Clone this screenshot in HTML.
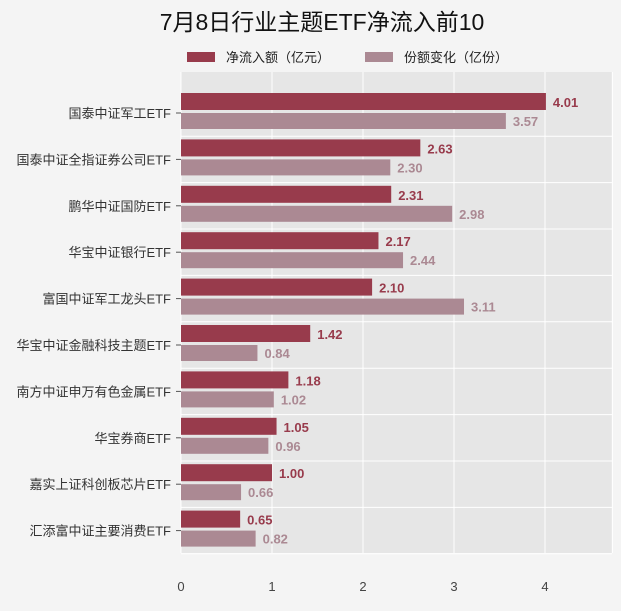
<!DOCTYPE html>
<html><head><meta charset="utf-8"><style>
body{margin:0;background:#f4f4f4;}
svg text{font-family:"Liberation Sans","Noto Sans CJK SC",sans-serif;}
</style></head><body>
<svg width="621" height="606">
<rect width="621" height="606" fill="#f4f4f4"/>
<text x="322" y="30" font-size="23" text-anchor="middle" fill="#111">7月8日行业主题ETF净流入前10</text>
<g>
<rect x="187" y="52" width="28" height="10" fill="#983b4c"/>
<text x="226" y="62" font-size="13" fill="#222">净流入额（亿元）</text>
<rect x="365" y="52" width="28" height="10" fill="#ab8993"/>
<text x="404" y="62" font-size="13" fill="#222">份额变化（亿份）</text>
</g>
<rect x="181" y="72" width="431" height="481" fill="#e6e6e6"/>
<g id="grid"></g><g id="bars"></g><g id="labels"></g><g id="axis"></g>
</svg>
<script>
const categories=["国泰中证军工ETF","国泰中证全指证券公司ETF","鹏华中证国防ETF","华宝中证银行ETF","富国中证军工龙头ETF","华宝中证金融科技主题ETF","南方中证申万有色金属ETF","华宝券商ETF","嘉实上证科创板芯片ETF","汇添富中证主要消费ETF"];
const inflow=[4.01,2.63,2.31,2.17,2.10,1.42,1.18,1.05,1.00,0.65];
const shares=[3.57,2.30,2.98,2.44,3.11,0.84,1.02,0.96,0.66,0.82];
const ticks=[0,1,2,3,4];
const NS="http://www.w3.org/2000/svg";
const x=v=>181+v*91;
const yc=i=>113+i*46.4;
function mk(t,a,p){const e=document.createElementNS(NS,t);for(const k in a)e.setAttribute(k,a[k]);document.getElementById(p).appendChild(e);return e;}
ticks.forEach(t=>{
 const l=mk('line',{x1:x(t),x2:x(t),y1:72,y2:553,stroke:'#fff','stroke-width':1},'grid');
 
 
 const tx=mk('text',{x:x(t),y:591,'font-size':13,'text-anchor':'middle',fill:'#444'},'axis');
 tx.textContent=t;
 
 
});
const g2=mk('line',{x1:x(4.74),x2:x(4.74),y1:72,y2:553,stroke:'#fff'},'grid');


categories.forEach((c,i)=>{
 const y=yc(i);
 const hl=mk('line',{x1:181,x2:612,y1:y+23.2,y2:y+23.2,stroke:'#fff'},'grid');
 
 
 const b1=mk('rect',{x:181,y:y-20,width:x(inflow[i])-181,height:17,fill:'#983b4c'},'bars');
 
 
 const b2=mk('rect',{x:181,y:y,width:x(shares[i])-181,height:16,fill:'#ab8993'},'bars');
 
 
 const t1=mk('text',{x:x(inflow[i])+7,y:y-6,'font-size':13,'font-weight':'bold',fill:'#983b4c'},'labels');
 t1.textContent=inflow[i].toFixed(2);
 
 
 const t2=mk('text',{x:x(shares[i])+7,y:y+13,'font-size':13,'font-weight':'bold',fill:'#ab8993'},'labels');
 t2.textContent=shares[i].toFixed(2);
 
 
 const ct=mk('text',{x:171,y:y+5,'font-size':13,'text-anchor':'end',fill:'#333'},'axis');
 ct.textContent=c;
 
 
 const tk=mk('line',{x1:176,x2:181,y1:y,y2:y,stroke:'#555'},'axis');
 
 
});
</script>
</body></html>
